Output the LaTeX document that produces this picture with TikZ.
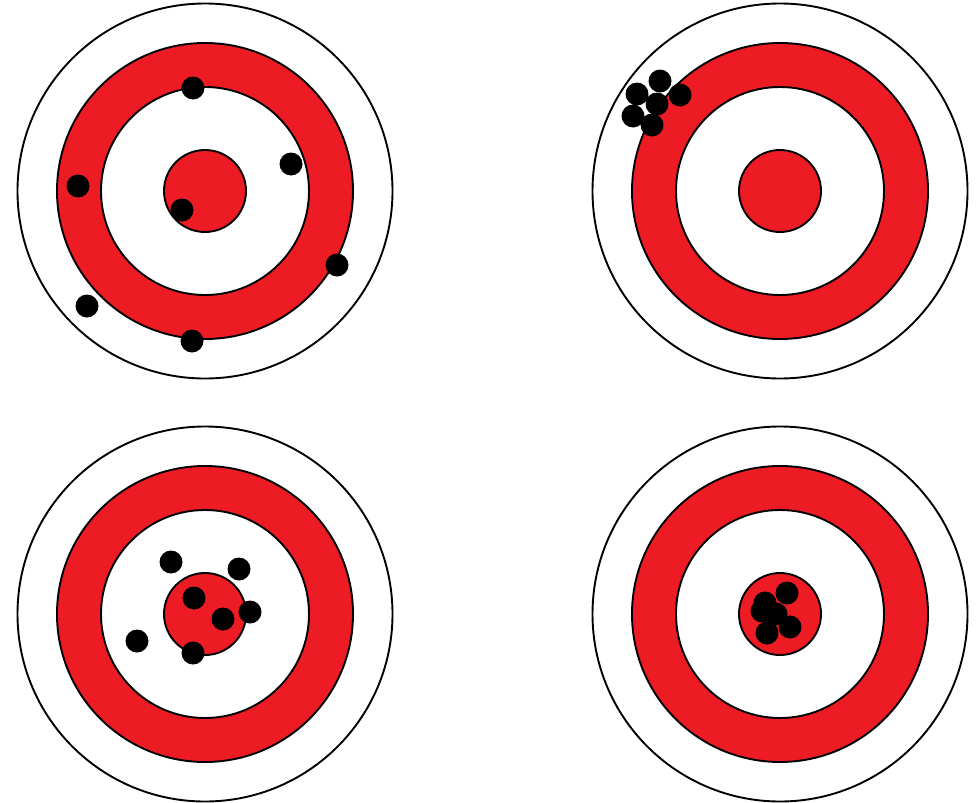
\documentclass[tikz,border=0pt]{standalone}
\definecolor{tred}{HTML}{ED1C24}
\tikzset{
  ring/.style={line width=1.9pt, draw=black},
  shot/.style={fill=black},
}
\newcommand\drawtarget[2]{%
  \draw[ring, fill=white] (#1,#2) circle (187.5pt);
  \draw[ring, fill=tred] (#1,#2) circle (148pt);
  \draw[ring, fill=white] (#1,#2) circle (104pt);
  \draw[ring, fill=tred] (#1,#2) circle (41pt);
}
\newcommand\shotat[2]{\fill[shot] (#1,#2) circle (11.5pt);}
\begin{document}
\begin{tikzpicture}[x=1pt,y=-1pt]
\useasboundingbox (0,0) rectangle (980,803);
\fill[white] (0,0) rectangle (980,803);
% top-left
\drawtarget{205}{191}
\shotat{193}{88}
\shotat{291}{164}
\shotat{78}{186}
\shotat{182}{210}
\shotat{337}{265}
\shotat{87}{306}
\shotat{192}{341}
% top-right
\drawtarget{780}{191}
\shotat{660}{81}
\shotat{637}{94}
\shotat{680}{95}
\shotat{657}{104}
\shotat{633}{116}
\shotat{652}{125}
% bottom-left
\drawtarget{205}{614}
\shotat{171}{562}
\shotat{239}{569}
\shotat{194}{598}
\shotat{250}{612}
\shotat{223}{619}
\shotat{137}{641}
\shotat{193}{653}
% bottom-right
\drawtarget{780}{614}
\shotat{787}{593}
\shotat{765}{603}
\shotat{762}{611}
\shotat{776}{614}
\shotat{790}{627}
\shotat{767}{633}
\end{tikzpicture}
\end{document}
